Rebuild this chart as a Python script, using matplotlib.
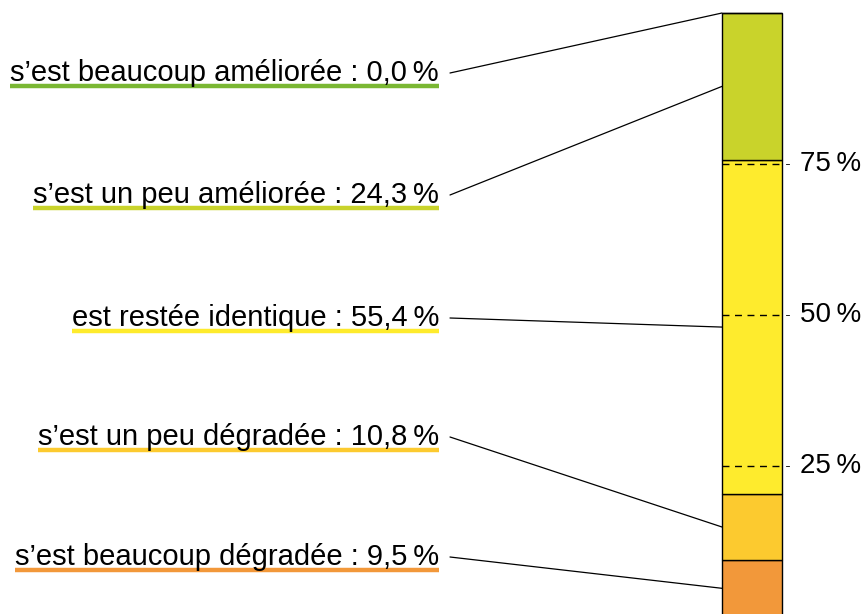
import matplotlib
matplotlib.use("Agg")
import matplotlib.pyplot as plt
from matplotlib.patches import ConnectionPatch

plt.rcParams['font.family'] = ['Liberation Sans', 'DejaVu Sans']

categories = ["s\u2019est beaucoup dégradée", "s\u2019est un peu dégradée",
              "est restée identique", "s\u2019est un peu améliorée",
              "s\u2019est beaucoup améliorée"]
values = [9.5, 10.8, 55.4, 24.3, 0.0]
bar_colors = ["#f2983a", "#fcca2f", "#feeb2d", "#c9d32b", "#7ab733"]
line_colors = ["#f2983a", "#fcca2f", "#feeb2d", "#c9d32b", "#7ab733"]
ticks = [25, 50, 75]
tick_labels = ["25\u2009%", "50\u2009%", "75\u2009%"]

W, H = 864, 614
fig = plt.figure(figsize=(W / 100, H / 100), dpi=100)

# bar axes: 0 % at y=617 px from top, 100 % at y=13 px
ax = fig.add_axes([722 / W, (H - 617) / H, 60 / W, 604 / H])
ax.set_xlim(0, 1)
ax.set_ylim(0, 100)
ax.axis("off")

bottom = 0
mids = []
for v, c in zip(values, bar_colors):
    ax.bar(0.5, v, width=1, bottom=bottom, color=c, edgecolor="black",
           linewidth=1, clip_on=False)
    mids.append(bottom + v / 2)
    bottom += v
mids[-1] = 100  # 0 % segment sits at the top

for t, lab in zip(ticks, tick_labels):
    ax.plot([0, 1.0], [t, t], color="black", lw=1, ls=(0, (5, 4)),
            clip_on=False)
    ax.plot([1.07, 1.12], [t, t], color="black", lw=0.6, clip_on=False)
    ax.text(1.3, t, lab, fontsize=20, va="center", ha="left")

# labels on the left, from bottom to top
label_y = [557, 437, 318, 195, 73]
fig.canvas.draw()
renderer = fig.canvas.get_renderer()
for cat, v, col, yc, m in zip(categories, values, line_colors, label_y, mids):
    s = f"{cat} : {v:.1f}".replace(".", ",") + "\u2009%"
    t = fig.text(439 / W, (H - yc) / H, s, fontsize=21, ha="right",
                 va="center")
    bb = t.get_window_extent(renderer)
    fig.add_artist(plt.Line2D([bb.x0 / W, bb.x1 / W],
                              [(H - yc - 13) / H] * 2,
                              color=col, lw=3.2, solid_capstyle="butt",
                              transform=fig.transFigure))
    con = ConnectionPatch(xyA=(450 / W, (H - yc) / H), coordsA=fig.transFigure,
                          xyB=(0, m), coordsB=ax.transData,
                          color="black", lw=0.9)
    fig.add_artist(con)

fig.savefig("out.png", dpi=100)
